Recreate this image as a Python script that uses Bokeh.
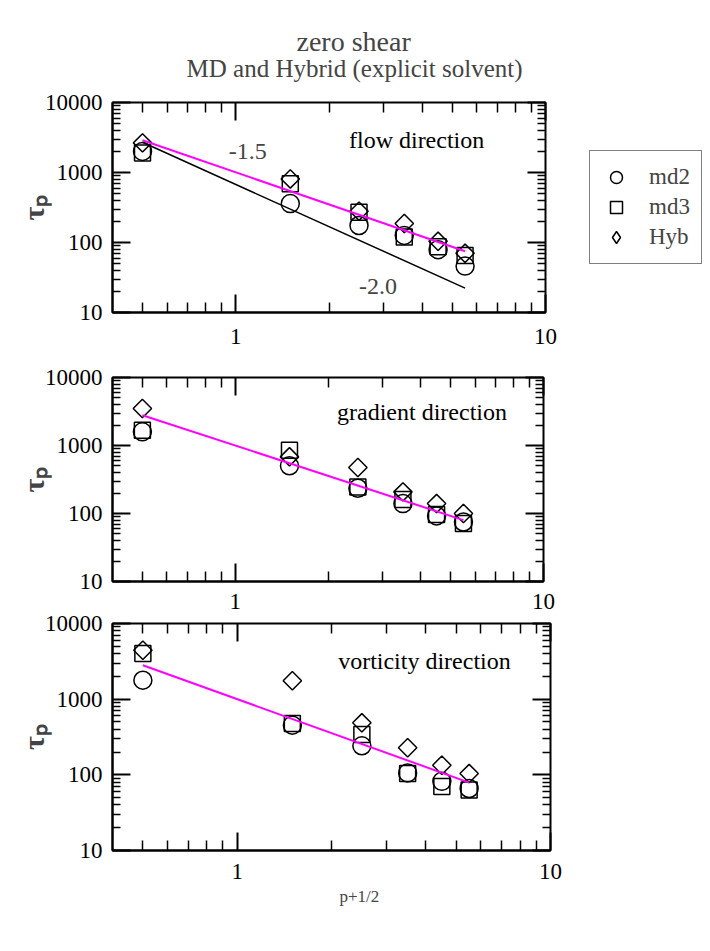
import math
from bokeh.plotting import figure
from bokeh.models import (LogAxis, FixedTicker, PrintfTickFormatter,
                          Legend, LegendItem, Label, Title, Range1d)
from bokeh.layouts import column, row
from bokeh.embed import file_html
from bokeh.resources import INLINE

# ---------------- data ----------------
x_vals = [0.5, 1.5, 2.5, 3.5, 4.5, 5.5]

flow_md2 = [2000, 360, 175, 126, 79, 46]
flow_md3 = [1900, 690, 271, 120, 87, 65]
flow_hyb = [2650, 810, 280, 187, 104, 70]

grad_md2 = [1590, 503, 235, 140, 92, 75]
grad_md3 = [1680, 853, 245, 161, 97, 71]
grad_hyb = [3500, 681, 475, 208, 140, 100]

vort_md2 = [1780, 453, 242, 106, 82, 66]
vort_md3 = [4010, 477, 341, 104, 70, 63]
vort_hyb = [4430, 1750, 487, 228, 134, 104]

fit_x = [0.5, 5.5]
flow_fit = [2890, 75]
flow_slope2 = [2700, 22.3]
grad_fit = [2790, 80]
vort_fit = [2810, 79]

series_names = ["md2", "md3", "Hyb"]
x_major = [1, 10]
x_minor = [0.5, 0.6, 0.7, 0.8, 0.9, 2, 3, 4, 5, 6, 7, 8, 9]
y_major = [10, 100, 1000, 10000]
y_minor = [m * d for d in (10, 100, 1000) for m in range(2, 10)]

SERIF = "Liberation Serif"
TICK_FS = "23px"


def style_axis(ax, minor_in, labels=True, standoff=8):
    ax.major_tick_in = 18
    ax.major_tick_out = 0
    ax.minor_tick_in = minor_in
    ax.minor_tick_out = 0
    ax.major_tick_line_width = 2
    ax.minor_tick_line_width = 1.5
    ax.major_tick_line_color = "black"
    ax.minor_tick_line_color = "black"
    ax.axis_line_width = 2
    ax.axis_line_color = "black"
    ax.formatter = PrintfTickFormatter(format="%d")
    if labels:
        ax.major_label_text_font = SERIF
        ax.major_label_text_font_size = TICK_FS
        ax.major_label_text_color = "black"
        ax.major_label_standoff = standoff
    else:
        ax.major_label_text_font_size = "1px"
        ax.major_label_text_color = None
        ax.major_label_standoff = 0
        ax.axis_line_color = None


def make_panel(fw, fh, b_left, b_right, b_top, b_bottom, x_standoff,
               md2, md3, hyb, fit, text, tx, ty):
    p = figure(frame_width=fw, frame_height=fh, x_axis_type="log", y_axis_type="log",
               x_range=Range1d(0.4, 10), y_range=Range1d(10, 10000),
               output_backend="svg", toolbar_location=None, title=None,
               min_border_left=b_left, min_border_right=b_right,
               min_border_top=b_top, min_border_bottom=b_bottom)
    p.grid.visible = False
    p.outline_line_color = "black"
    p.outline_line_width = 2
    p.background_fill_color = "white"
    p.border_fill_color = "white"

    p.xaxis[0].ticker = FixedTicker(ticks=x_major, minor_ticks=x_minor)
    p.yaxis[0].ticker = FixedTicker(ticks=y_major, minor_ticks=y_minor)
    style_axis(p.xaxis[0], 10, True, x_standoff)
    style_axis(p.yaxis[0], 8, True, 10)
    p.yaxis[0].axis_label = "τₚ"
    p.yaxis[0].axis_label_text_font = SERIF
    p.yaxis[0].axis_label_text_font_style = "bold"
    p.yaxis[0].axis_label_text_font_size = "30px"
    p.yaxis[0].axis_label_standoff = -8

    top_ax = LogAxis(ticker=FixedTicker(ticks=x_major, minor_ticks=x_minor))
    style_axis(top_ax, 10, False)
    p.add_layout(top_ax, "above")
    right_ax = LogAxis(ticker=FixedTicker(ticks=y_major, minor_ticks=y_minor))
    style_axis(right_ax, 8, False)
    p.add_layout(right_ax, "right")

    r1 = p.scatter(x_vals, md2, marker="circle", size=18, fill_color=None,
                   line_color="black", line_width=1.5)
    r2 = p.scatter(x_vals, md3, marker="square", size=16, fill_color=None,
                   line_color="black", line_width=1.5)
    r3 = p.scatter(x_vals, hyb, marker="square", angle=math.pi / 4, size=13,
                   fill_color=None, line_color="black", line_width=1.5)
    p.line(fit_x, fit, line_color="#ff00ff", line_width=2)

    p.add_layout(Label(x=tx, y=ty, text=text, text_font=SERIF, text_font_size="24px",
                       text_baseline="middle", text_align="left", text_color="black"))
    return p, (r1, r2, r3)


P1_TOP, P1_BOTTOM, P1_RIGHT = 102, 43, 20
p1, rs = make_panel(433, 210, 112, P1_RIGHT, P1_TOP, P1_BOTTOM, 16,
                    flow_md2, flow_md3, flow_hyb, flow_fit, "flow direction", 2.32, 2960)
p1.line(fit_x, flow_slope2, line_color="black", line_width=1.5)
p1.add_layout(Label(x=0.949, y=1995, text="-1.5", text_font=SERIF, text_font_size="24px",
                    text_baseline="middle", text_align="left"))
p1.add_layout(Label(x=2.50, y=23.5, text="-2.0", text_font=SERIF, text_font_size="24px",
                    text_baseline="middle", text_align="left"))

p1.add_layout(Title(text="MD and Hybrid (explicit solvent)", align="left", offset=74,
                    text_font=SERIF, text_font_size="25px", text_font_style="normal",
                    standoff=42), "above")
p1.add_layout(Title(text="zero shear", align="left", offset=184,
                    text_font=SERIF, text_font_size="28px", text_font_style="normal",
                    standoff=-50), "above")

# ---- legend, in a small side figure next to the top panel ----
P1_H = P1_TOP + 210 + P1_BOTTOM
P1_W = 112 + 433 + P1_RIGHT
leg_fig = figure(width=702 - P1_W, height=P1_H, x_axis_type=None, y_axis_type=None,
                 x_range=Range1d(0, 1), y_range=Range1d(0, 1),
                 output_backend="svg", toolbar_location=None, title=None,
                 min_border=0, outline_line_color=None)
leg_fig.grid.visible = False
leg_fig.background_fill_color = "white"
leg_fig.border_fill_color = "white"
k1 = leg_fig.scatter(x_vals, flow_md2, marker="circle", size=0, fill_color=None,
                     line_color="black", line_width=1.5)
k2 = leg_fig.scatter(x_vals, flow_md3, marker="square", size=0, fill_color=None,
                     line_color="black", line_width=1.5)
k3 = leg_fig.scatter(x_vals, flow_hyb, marker="diamond", size=0, fill_color=None,
                     line_color="black", line_width=1.5)
legend = Legend(items=[LegendItem(label=n, renderers=[k]) for n, k in
                       zip(series_names, (k1, k2, k3))],
                location=(24, 48), border_line_color="black", border_line_width=1.5,
                background_fill_color="white", background_fill_alpha=1,
                label_text_font=SERIF, label_text_font_size="23px",
                glyph_width=30, glyph_height=30, label_standoff=18, label_width=40,
                padding=11, spacing=0, margin=0)
leg_fig.add_layout(legend, "center")

p2, _ = make_panel(431, 204, 112, 160, 22, 31, 12, grad_md2, grad_md3, grad_hyb,
                   grad_fit, "gradient direction", 2.14, 3162)
p3, _ = make_panel(438, 227, 112, 152, 11, 70, 13, vort_md2, vort_md3, vort_hyb,
                   vort_fit, "vorticity direction", 2.10, 3150)
p3.add_layout(Title(text="p+1/2", align="left", offset=227, text_font=SERIF,
                    text_font_size="17px", text_font_style="normal", standoff=6), "below")

layout = column(row(p1, leg_fig, spacing=0), p2, p3, spacing=0)
open("out.html", "w").write(file_html(layout, INLINE))
